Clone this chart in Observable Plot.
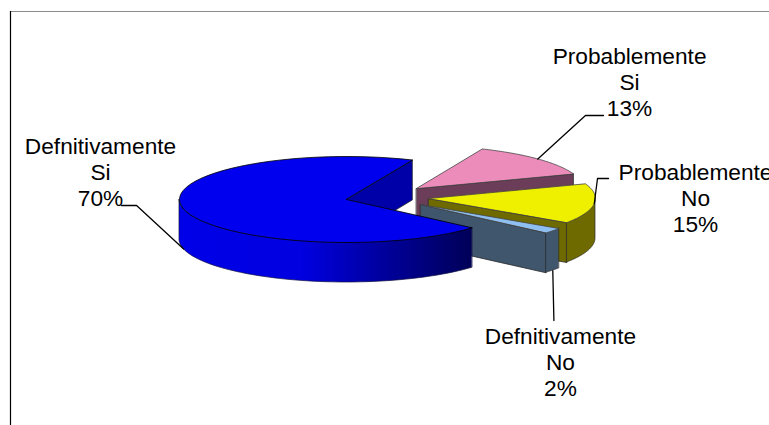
<!DOCTYPE html>
<html>
<head>
<meta charset="utf-8">
<style>html,body{margin:0;padding:0;background:#fff;overflow:hidden}</style>
<script src="https://cdn.jsdelivr.net/npm/d3@7"></script>
<script src="https://cdn.jsdelivr.net/npm/@observablehq/plot@0.6"></script>
</head>
<body>
<script>
// Data
const categories = ["Defnitivamente\nSi", "Probablemente\nSi", "Probablemente\nNo", "Defnitivamente\nNo"];
const percents = [70, 13, 15, 2];

// Styles, one per slice
const topColors = ["#0000ee", "#ec8cbb", "#efef00", "#8fbff0"];
const wallColors = ["#0000a8", "#6c3d58", "#6e6a00", "#3f566c"];
const rimColors = ["url(#rimBlue)", "#6c3d58", "#6e6a00", "#3f566c"];

// Layout, in pie units: 1 = one radius on each axis
const W = 769, H = 425;
const cxPx = 346, cyPx = 199, rxPx = 167, ryPx = 43;
const depth = 0.93;
const firstAngle = 41.2 * Math.PI / 180;      // clockwise from +x
const explode = [[0, 0], [0.419, -0.256], [0.491, -0.023], [0.443, 0.116]];
const drawOrder = [1, 2, 3, 0];
const leaderOnBase = [true, false, false, true];
const labelPos = [[-1.473, -0.651], [1.695, -2.744], [2.09, -0.047], [1.281, 3.767]];
const leaderVia = [
  [[-1.257, 0.14], [-1.347, 0.14]],
  [[1.431, -1.953], [1.539, -1.953]],
  [[1.503, -0.488], [1.569, -0.488]],
  [[1.242, 2.814]]
];
const frameLeft = -2.012, frameTop = -4.372;

const arcs = d3.pie().sort(null).value(d => d).startAngle(firstAngle).endAngle(firstAngle + 2 * Math.PI)(percents);
const pt = (i, t, dz = 0) => ({x: explode[i][0] + Math.cos(t), y: explode[i][1] + Math.sin(t) + dz});
const arcPts = (i, a, b, dz = 0) => d3.range(0, 61).map(k => pt(i, a + (b - a) * k / 60, dz));
const edge = "#2a2a2a";

const poly = (pts, fill, stroke = edge) => Plot.line(pts, {x: "x", y: "y", fill, stroke, strokeWidth: 0.8, curve: "linear-closed"});

const sliceMarks = drawOrder.flatMap(i => {
  const {startAngle: a, endAngle: b} = arcs[i];
  const apex = {x: explode[i][0], y: explode[i][1]};
  const marks = [];
  // radial wall facing the viewer
  if (Math.cos(b) > 0) {
    marks.push(poly([apex, pt(i, b), pt(i, b, depth), {x: apex.x, y: apex.y + depth}], wallColors[i]));
  }
  // outer rim: only the front half of the ellipse shows
  const ts = [];
  for (let w = -1; w <= 2; w++) {
    const lo = Math.max(a, w * 2 * Math.PI), hi = Math.min(b, w * 2 * Math.PI + Math.PI);
    if (hi > lo) ts.push([lo, hi]);
  }
  ts.forEach(([lo, hi]) => {
    const rim = arcPts(i, lo, hi).map(p => ({x: p.x, y1: p.y, y2: p.y + depth}));
    marks.push(Plot.areaY(rim, {x: "x", y1: "y1", y2: "y2", fill: rimColors[i], stroke: i === 0 ? "#101040" : edge, strokeWidth: 0.7}));
  });
  // top face
  marks.push(poly([apex, ...arcPts(i, a, b)], topColors[i], i === 0 ? "#000" : "#444"));
  return marks;
});

const leaders = percents.map((_, i) => {
  const mid = (arcs[i].startAngle + arcs[i].endAngle) / 2;
  const s = pt(i, mid, leaderOnBase[i] ? depth : 0);
  return Plot.line([s, ...leaderVia[i].map(([x, y]) => ({x, y}))], {x: "x", y: "y", stroke: "#000", strokeWidth: 1.3});
});

const labels = categories.map((c, i) => ({text: `${c}\n${percents[i]}%`, x: labelPos[i][0], y: labelPos[i][1]}));

const defs = () => {
  const d = d3.create("svg:defs");
  const g = d.append("linearGradient").attr("id", "rimBlue").attr("x1", 0).attr("x2", 1).attr("y1", 0).attr("y2", 0);
  [[0, "#0000e8"], [0.42, "#0000e0"], [0.72, "#000098"], [1, "#000058"]].forEach(([o, c]) =>
    g.append("stop").attr("offset", o).attr("stop-color", c));
  return d.node();
};

const chart = Plot.plot({
  width: W, height: H,
  margin: 0,
  style: {fontFamily: "'Liberation Sans', Arial, sans-serif", background: "#fff"},
  x: {axis: null, domain: [-cxPx / rxPx, (W - cxPx) / rxPx], range: [0, W]},
  y: {axis: null, domain: [-cyPx / ryPx, (H - cyPx) / ryPx], range: [0, H]},
  marks: [
    defs,
    Plot.ruleY([frameTop], {x1: frameLeft, x2: (W - cxPx) / rxPx, stroke: "#8c8c8c", strokeWidth: 1}),
    Plot.ruleX([frameLeft], {y1: frameTop, y2: (H - cyPx) / ryPx, stroke: "#000", strokeWidth: 1.2}),
    ...sliceMarks,
    ...leaders,
    Plot.text(labels, {x: "x", y: "y", text: "text", fontSize: 22.7, lineHeight: 1.15, fill: "#000"})
  ]
});
document.body.appendChild(chart);
</script>
</body>
</html>
